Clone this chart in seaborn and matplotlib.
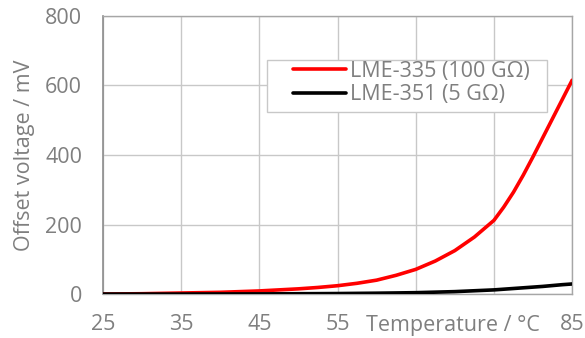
import matplotlib
matplotlib.use("Agg")
import matplotlib.pyplot as plt
from matplotlib.patches import Rectangle
import seaborn as sns
import pandas as pd

# Offset voltage versus temperature for two electrometer inputs
temp_c = [25, 27.5, 30, 32.5, 35, 37.5, 40, 42.5, 45, 47.5, 50, 52.5, 55,
          57.5, 60, 62.5, 65, 67.5, 70, 72.5, 75, 76.25, 77.5, 78.75, 80,
          81.25, 82.5, 83.75, 85]
lme335_mv = [0, 0.5, 1, 2, 3, 4, 5, 7, 9, 12, 15, 19, 24,
             31, 40, 54, 71, 95, 125, 164, 212, 250, 293, 342, 395,
             450, 505, 560, 615]
lme351_mv = [0, 0, 0, 0, 0, 0.2, 0.3, 0.4, 0.5, 0.7, 1, 1.2, 1.5,
             2, 2.5, 3.2, 4, 5.5, 7, 9.5, 12, 14, 16, 18, 20,
             22, 24.5, 27, 29]

series_names = ["LME-335 (100 G\u03a9)", "LME-351 (5 G\u03a9)"]
x_ticks = [25, 35, 45, 55, 65, 75, 85]
x_tick_labels = ["25", "35", "45", "55", "", "", "85"]
y_ticks = [0, 200, 400, 600, 800]

df = pd.concat([
    pd.DataFrame({"T": temp_c, "V": lme335_mv, "series": series_names[0]}),
    pd.DataFrame({"T": temp_c, "V": lme351_mv, "series": series_names[1]}),
])

sns.set_theme(style="white")
plt.rcParams["font.family"] = ["Open Sans", "DejaVu Sans"]

text_gray = "#7f7f7f"
grid_gray = "#c8c8c8"
fs = 15.5

fig = plt.figure(figsize=(5.85, 3.38), dpi=100)
ax = fig.add_axes([0.176, 0.130, 0.802, 0.823])

sns.lineplot(data=df, x="T", y="V", hue="series",
             palette={series_names[0]: "#ff0000", series_names[1]: "#000000"},
             linewidth=2.6, ax=ax, zorder=3)

ax.set_xlim(25, 85)
ax.set_ylim(0, 800)
ax.set_xticks(x_ticks)
ax.set_xticklabels(x_tick_labels)
ax.set_yticks(y_ticks)
ax.grid(True, color=grid_gray, linewidth=1.0)
ax.set_axisbelow(True)

for side in ["top", "right", "bottom"]:
    ax.spines[side].set_color("#a6a6a6")
    ax.spines[side].set_linewidth(1.0)
ax.spines["left"].set_color("#8c8c8c")
ax.spines["left"].set_linewidth(1.2)

ax.tick_params(axis="both", length=0, labelsize=fs, labelcolor=text_gray)
ax.tick_params(axis="y", pad=15)
ax.tick_params(axis="x", pad=14)

ax.set_ylabel("Offset voltage / mV", fontsize=fs, color=text_gray, labelpad=7)
ax.set_xlabel("Temperature / \u00b0C", fontsize=fs, color=text_gray)
ax.xaxis.set_label_coords(0.746, -0.074)

# Legend box with wide inner margins, drawn as its own patch
ax.add_patch(Rectangle((0.350, 0.655), 0.597, 0.187, transform=ax.transAxes,
                       facecolor="white", edgecolor="#c8c8c8", linewidth=1.0,
                       zorder=4))
leg = ax.legend(loc="upper left", bbox_to_anchor=(0.405, 0.838),
                fontsize=fs, frameon=False,
                handlelength=2.45, handletextpad=0.2, borderpad=0.0,
                labelspacing=0.1, borderaxespad=0)
leg.set_zorder(5)
for t in leg.get_texts():
    t.set_color(text_gray)

fig.savefig("out.png", dpi=100)
